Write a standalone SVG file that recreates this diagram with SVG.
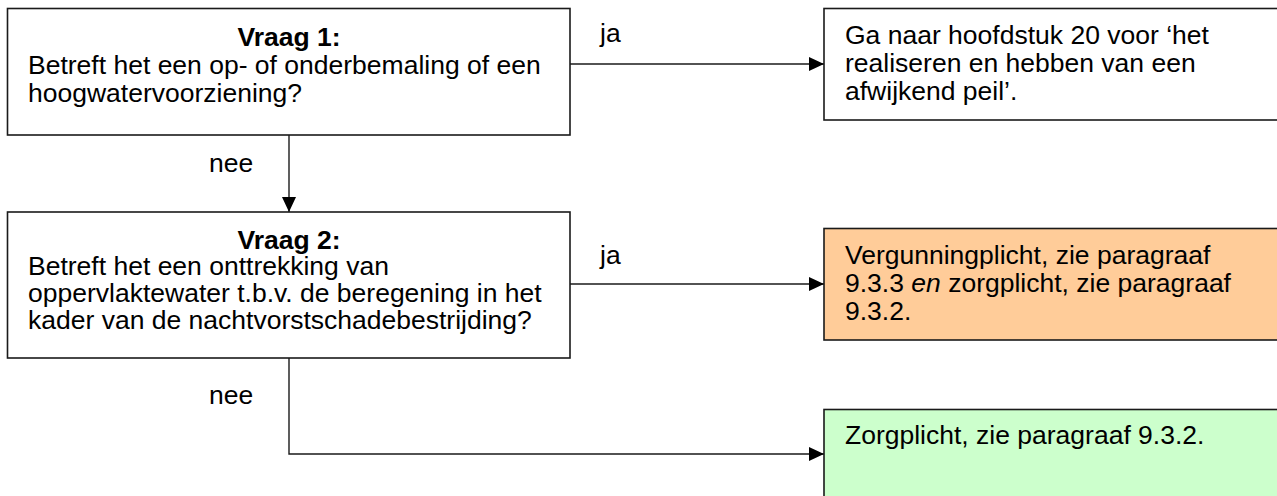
<svg xmlns="http://www.w3.org/2000/svg" width="1277" height="496" viewBox="0 0 1277 496">
<style>
  .box { stroke: #1a1a1a; stroke-width: 1.6; }
  .t { font-family: "Liberation Sans", Arial, sans-serif; font-size: 26.5px; fill: #000; }
  .b { font-weight: bold; text-anchor: middle; }
  .conn { fill: none; stroke: #1a1a1a; stroke-width: 1.4; }
</style>
<defs>
  <marker id="arr" markerUnits="userSpaceOnUse" markerWidth="16" markerHeight="15" refX="15" refY="7" orient="auto">
    <path d="M0,0 L15,7 L0,14 z" fill="#000"/>
  </marker>
</defs>
<rect width="1277" height="496" fill="#fff"/>
<g id="connectors">
  <path class="conn" d="M570,64 H824" marker-end="url(#arr)"/>
  <path class="conn" d="M289,135 V212" marker-end="url(#arr)"/>
  <path class="conn" d="M570,284 H824" marker-end="url(#arr)"/>
  <path class="conn" d="M289,358 V454 H824" marker-end="url(#arr)"/>
  <text class="t" x="600" y="42">ja</text>
  <text class="t" x="209" y="172">nee</text>
  <text class="t" x="600" y="264">ja</text>
  <text class="t" x="209" y="404">nee</text>
</g>
<g id="vraag1">
  <rect class="box" x="7.5" y="8.5" width="562.5" height="126.5" fill="#fff"/>
  <text class="t b" x="289" y="45.5">Vraag 1:</text>
  <text class="t" x="28" y="74">Betreft het een op- of onderbemaling of een</text>
  <text class="t" x="28" y="101.5">hoogwatervoorziening?</text>
</g>
<g id="hoofdstuk20">
  <rect class="box" x="824" y="8.5" width="470" height="111.5" fill="#fff"/>
  <text class="t" x="845" y="43.5">Ga naar hoofdstuk 20 voor ‘het</text>
  <text class="t" x="845" y="71.5">realiseren en hebben van een</text>
  <text class="t" x="845" y="100">afwijkend peil’.</text>
</g>
<g id="vraag2">
  <rect class="box" x="7.5" y="212" width="562.5" height="146" fill="#fff"/>
  <text class="t b" x="289" y="249">Vraag 2:</text>
  <text class="t" x="28" y="275">Betreft het een onttrekking van</text>
  <text class="t" x="28" y="302">oppervlaktewater t.b.v. de beregening in het</text>
  <text class="t" x="28" y="328.5">kader van de nachtvorstschadebestrijding?</text>
</g>
<g id="vergunningplicht">
  <rect class="box" x="824" y="228.5" width="470" height="111.5" fill="#ffcc99"/>
  <text class="t" x="845" y="263.5">Vergunningplicht, zie paragraaf</text>
  <text class="t" x="845" y="291.5">9.3.3 <tspan font-style="italic">en</tspan> zorgplicht, zie paragraaf</text>
  <text class="t" x="845" y="320">9.3.2.</text>
</g>
<g id="zorgplicht">
  <rect class="box" x="824" y="409.5" width="470" height="100" fill="#ccffcc"/>
  <text class="t" x="845" y="443.5">Zorgplicht, zie paragraaf 9.3.2.</text>
</g>
</svg>
